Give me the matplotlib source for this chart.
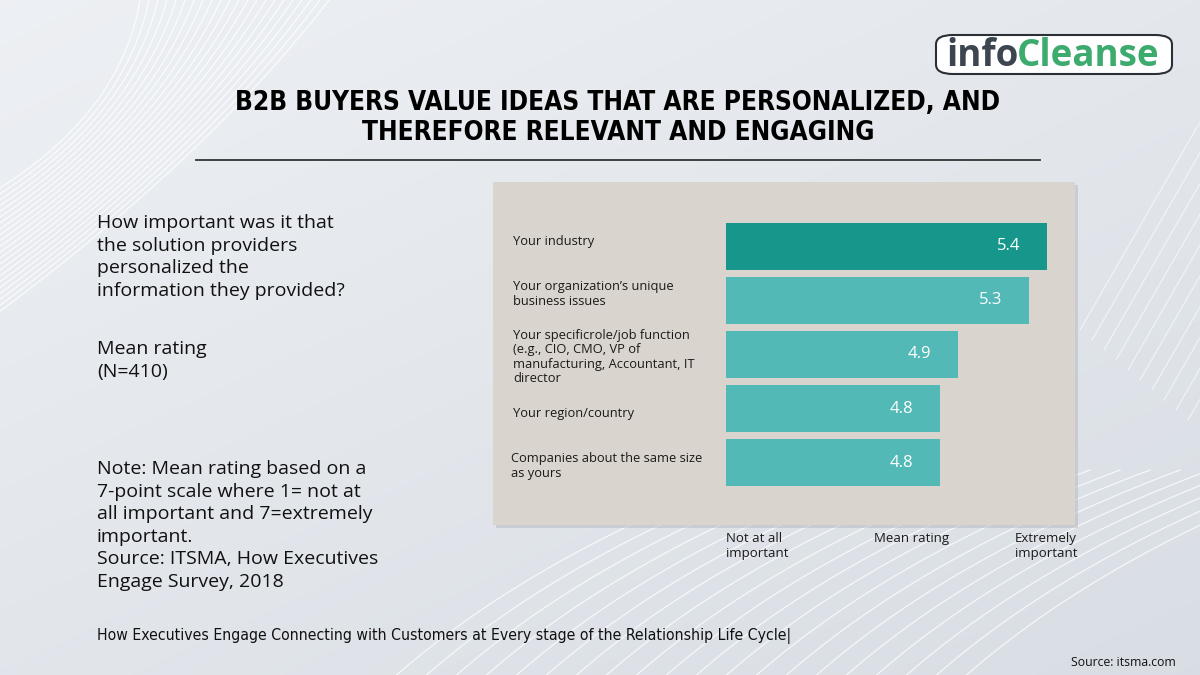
import numpy as np
import matplotlib.pyplot as plt
from matplotlib.patches import FancyBboxPatch, Rectangle

# chart data
categories = [
    "Your industry",
    "Your organization\u2019s unique\nbusiness issues",
    "Your specificrole/job function\n(e.g., CIO, CMO, VP of\nmanufacturing, Accountant, IT\ndirector",
    "Your region/country",
    "Companies about the same size\nas yours",
]
ratings = [5.4, 5.3, 4.9, 4.8, 4.8]
bar_colors = ["#17968b", "#52b9b7", "#52b9b7", "#52b9b7", "#52b9b7"]
scale_labels = ["Not at all\nimportant", "Mean rating", "Extremely\nimportant"]

title = "B2B BUYERS VALUE IDEAS THAT ARE PERSONALIZED, AND\nTHEREFORE RELEVANT AND ENGAGING"
question = ("How important was it that\nthe solution providers\n"
            "personalized the\ninformation they provided?")
mean_note = "Mean rating\n(N=410)"
note = ("Note: Mean rating based on a\n7-point scale where 1= not at\n"
        "all important and 7=extremely\nimportant.\n"
        "Source: ITSMA, How Executives\nEngage Survey, 2018")
footer = "How Executives Engage Connecting with Customers at Every stage of the Relationship Life Cycle|"
source = "Source: itsma.com"

W, H = 1200, 675
plt.rcParams['font.family'] = ['Open Sans', 'DejaVu Sans']


def fx(x):
    return x / W


def fy(y):
    return 1 - y / H


fig = plt.figure(figsize=(12, 6.75), dpi=100)

# background gradient + decorative white curves
bg = fig.add_axes([0, 0, 1, 1])
gx, gy = np.meshgrid(np.linspace(0, 1, 300), np.linspace(0, 1, 170))
top = np.array([0.93, 0.94, 0.955])
bot = np.array([0.85, 0.87, 0.895])
mix = np.clip(0.55 * gy + 0.45 * gx, 0, 1)[..., None]
bg.imshow(top * (1 - mix) + bot * mix, extent=[0, W, H, 0], aspect="auto")
t = np.linspace(0, 1, 200)
for k in range(22):
    # fan in the top-left corner
    p0 = np.array([140 + k * 9, 0])
    p1 = np.array([120 + k * 4, 120 + k * 2])
    p2 = np.array([-20, 200 + k * 6])
    pts = np.outer((1 - t) ** 2, p0) + np.outer(2 * (1 - t) * t, p1) + np.outer(t ** 2, p2)
    bg.plot(pts[:, 0], pts[:, 1], color="white", lw=0.9, alpha=0.8)
for k in range(20):
    # sweep at the bottom centre
    p0 = np.array([380 + k * 30, 690])
    p1 = np.array([520 + k * 30, 560])
    p2 = np.array([760 + k * 30, 470])
    pts = np.outer((1 - t) ** 2, p0) + np.outer(2 * (1 - t) * t, p1) + np.outer(t ** 2, p2)
    bg.plot(pts[:, 0], pts[:, 1], color="white", lw=0.9, alpha=0.75)
for k in range(10):
    xs = 1080 + k * 12 + t * 150
    ys = 330 - t * 260 + k * 10
    bg.plot(xs, ys, color="white", lw=0.8, alpha=0.6)
bg.set_xlim(0, W)
bg.set_ylim(H, 0)
bg.axis("off")

# panel with shadow
fig.patches.append(Rectangle((fx(496), fy(528)), fx(582), 343 / H, transform=fig.transFigure,
                             facecolor="#b4b8bd", edgecolor="none", alpha=0.5, zorder=1))
fig.patches.append(Rectangle((fx(493), fy(525)), fx(582), 343 / H, transform=fig.transFigure,
                             facecolor="#d9d4cd", edgecolor="none", zorder=1.5))

# bar chart
ax = fig.add_axes([fx(726), fy(486), fx(1047 - 726), (486 - 223) / H])
ax.set_zorder(3)
ypos = np.arange(len(categories))
ax.barh(ypos, ratings, height=0.87, color=bar_colors)
ax.set_xlim(3.6, 5.4)
ax.set_ylim(len(categories) - 0.565, -0.435)
ax.axis("off")
for yp, v in zip(ypos, ratings):
    ax.annotate(f"{v:.1f}", (v, yp), xytext=(-19, 0), textcoords="offset points",
                ha="right", va="center", color="white", fontsize=12)

# category labels sit in the panel left of the bars
label_x = [513, 513, 513, 513, 511]
label_y = [242, 294, 357, 414, 466]
for lab, lx, ly in zip(categories, label_x, label_y):
    fig.text(fx(lx), fy(ly), lab, ha="left", va="center", fontsize=9.3,
             color="#1a1a1a", linespacing=1.15, zorder=4)

# scale labels below the panel
for lx, lab in zip([726, 874, 1015], scale_labels):
    fig.text(fx(lx), fy(532), lab, ha="left", va="top", fontsize=9.5,
             color="#1a1a1a", linespacing=1.15)

# title and rule
fig.text(fx(618), fy(118), title, ha="center", va="center", fontsize=18.8,
         fontweight="bold", fontstretch="condensed", color="black", linespacing=1.22,
         family=["DejaVu Sans"])
fig.add_artist(plt.Line2D([fx(196), fx(1040)], [fy(160), fy(160)], color="#333333", lw=1.3))

# left side text
fig.text(fx(97), fy(214), question, ha="left", va="top", fontsize=14, color="#111111",
         linespacing=1.33)
fig.text(fx(97), fy(340), mean_note, ha="left", va="top", fontsize=14, color="#111111",
         linespacing=1.33)
fig.text(fx(97), fy(460), note, ha="left", va="top", fontsize=14, color="#111111",
         linespacing=1.33)

# footer
fig.text(fx(97), fy(636), footer, ha="left", va="center", fontsize=11.3, color="#111111",
         fontstretch="condensed", family=["DejaVu Sans"])
fig.text(fx(1176), fy(662), source, ha="right", va="center", fontsize=8.8, color="#111111")

# logo
fig.patches.append(FancyBboxPatch((fx(936), fy(74)), fx(236), 39 / H,
                                  boxstyle="round,pad=0,rounding_size=0.014",
                                  transform=fig.transFigure, facecolor="white",
                                  edgecolor="#2b2f36", lw=1.5, zorder=2))
lg = fig.text(fx(946), fy(56), "info", ha="left", va="center", fontsize=26.5,
              fontweight="bold", color="#3d4550", zorder=3)
fig.canvas.draw()
bb = lg.get_window_extent()
fig.text(bb.x1 / W - 0.0015, fy(56), "Cleanse", ha="left", va="center", fontsize=26.5,
         fontweight="bold", color="#3daa6e", zorder=3)

fig.savefig("out.png", dpi=100)
